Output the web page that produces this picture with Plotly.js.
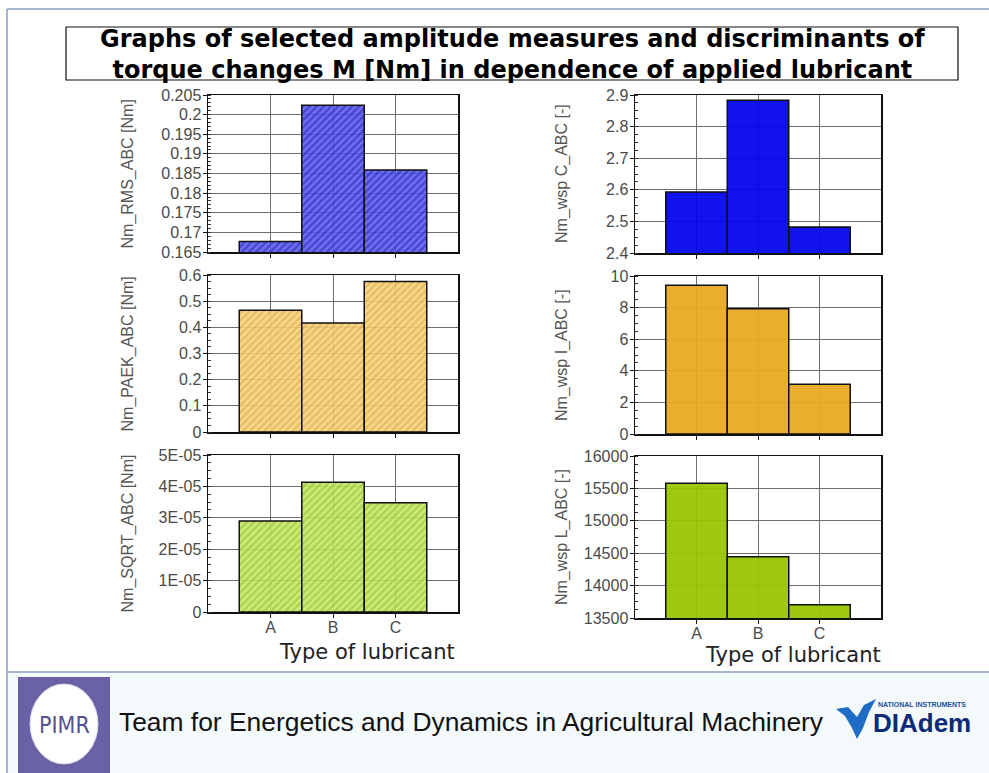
<!DOCTYPE html>
<html>
<head>
<meta charset="utf-8">
<script src="https://cdn.plot.ly/plotly-3.0.1.min.js"></script>
<style>html,body{margin:0;padding:0;background:#fff;}#chart{width:989px;height:773px;}</style>
</head>
<body>
<div id="chart"></div>
<script>
// ---------------- data ----------------
const categories = ['A', 'B', 'C'];
const rmsValues  = [0.1677, 0.2024, 0.1859];   // Nm_RMS_ABC [Nm]
const paekValues = [0.465, 0.417, 0.575];      // Nm_PAEK_ABC [Nm]
const sqrtValues = [2.90e-5, 4.13e-5, 3.48e-5];// Nm_SQRT_ABC [Nm]
const wspCValues = [2.593, 2.883, 2.482];      // Nm_wsp C_ABC [-]
const wspIValues = [9.42, 7.92, 3.15];         // Nm_wsp I_ABC [-]
const wspLValues = [15580, 14445, 13705];      // Nm_wsp L_ABC [-]
const sqrtTickVals = [0, 1e-5, 2e-5, 3e-5, 4e-5, 5e-5];
const sqrtTickText = ['0', '1E-05', '2E-05', '3E-05', '4E-05', '5E-05'];
const yTitles = ['Nm_RMS_ABC [Nm]', 'Nm_wsp C_ABC [-]', 'Nm_PAEK_ABC [Nm]', 'Nm_wsp I_ABC [-]', 'Nm_SQRT_ABC [Nm]', 'Nm_wsp L_ABC [-]'];
const xTitle = 'Type of lubricant';
const mainTitle = 'Graphs of selected amplitude measures and discriminants of<br>torque changes M [Nm] in dependence of applied lubricant';
const footerText = 'Team for Energetics and Dynamics in Agricultural Machinery';

// ---------------- helpers ----------------
const W = 989, H = 773;
const px = x => x / W;
const py = y => 1 - y / H;
const dom = (x0, x1, y0, y1) => ({x: [px(x0), px(x1)], y: [py(y1), py(y0)]});

const boxes = [
  dom(208, 458, 95, 252),   // TL
  dom(635, 881, 95, 253),   // TR
  dom(208, 458, 275, 432),  // ML
  dom(635, 881, 276, 434),  // MR
  dom(208, 458, 455, 612),  // BL
  dom(635, 881, 456, 618)   // BR
];

const tickFont = {family: 'Liberation Sans, Arial, sans-serif', size: 16, color: '#4a4a4a'};

function hatched(bg, fg) {
  return {color: bg, line: {color: '#111', width: 1.5},
          pattern: {shape: '/', fgcolor: fg, size: 5, solidity: 0.5, fillmode: 'overlay'}};
}
function solid(c) { return {color: c, line: {color: '#111', width: 1.5}}; }

const seriesList = [
  {y: rmsValues,  marker: hatched('rgba(92,92,238,0.88)', 'rgba(20,20,175,0.92)')},
  {y: wspCValues, marker: solid('rgba(0,0,236,0.93)')},
  {y: paekValues, marker: hatched('rgba(248,210,126,0.88)', 'rgba(214,156,48,0.92)')},
  {y: wspIValues, marker: solid('rgba(232,168,30,0.93)')},
  {y: sqrtValues, marker: hatched('rgba(200,232,104,0.88)', 'rgba(130,182,30,0.92)')},
  {y: wspLValues, marker: solid('rgba(152,196,0,0.93)')}
];

const yCfg = [
  {range: [0.165, 0.205], dtick: 0.005, minor: 0.001},
  {range: [2.4, 2.9], dtick: 0.1, minor: 0.025},
  {range: [0, 0.6], dtick: 0.1, minor: 0.025},
  {range: [0, 10], dtick: 2, minor: 0.5},
  {range: [0, 5e-5], tickvals: sqrtTickVals, ticktext: sqrtTickText, minor: 2.5e-6},
  {range: [13500, 16000], dtick: 500, minor: 125, tickformat: 'd'}
];

const data = [];
const layout = {
  width: W, height: H,
  margin: {l: 0, r: 0, t: 0, b: 0},
  paper_bgcolor: '#ffffff',
  plot_bgcolor: 'rgba(0,0,0,0)',
  showlegend: false,
  bargap: 0,
  shapes: [],
  annotations: []
};

seriesList.forEach((s, i) => {
  const n = i + 1;
  const xa = 'xaxis' + (n === 1 ? '' : n), ya = 'yaxis' + (n === 1 ? '' : n);
  const xr = 'x' + (n === 1 ? '' : n), yr = 'y' + (n === 1 ? '' : n);
  data.push({type: 'bar', x: categories, y: s.y, width: 1, marker: s.marker,
             xaxis: xr, yaxis: yr, hoverinfo: 'x+y'});
  const bottomRow = i >= 4;
  layout[xa] = {
    domain: boxes[i].x, anchor: yr, type: 'category', categoryorder: 'array', categoryarray: categories,
    range: [-1, 3], showgrid: true, gridcolor: '#6e6e6e', gridwidth: 1,
    showline: true, linecolor: '#111', linewidth: 1.5, mirror: true,
    ticks: 'outside', ticklen: 4, tickcolor: '#111', ticklabelstandoff: -4,
    showticklabels: bottomRow, tickfont: tickFont, fixedrange: true, zeroline: false
  };
  const c = yCfg[i];
  const yax = {
    domain: boxes[i].y, anchor: xr, range: c.range,
    showgrid: true, gridcolor: '#6e6e6e', gridwidth: 1,
    showline: true, linecolor: '#111', linewidth: 1.5, mirror: true,
    ticks: 'outside', ticklen: 4, tickcolor: '#111', ticklabelstandoff: -2,
    minor: {dtick: c.minor, ticks: 'inside', ticklen: 3, tickcolor: '#333', showgrid: false},
    tickfont: tickFont, fixedrange: true, zeroline: false
  };
  if (c.tickvals) { yax.tickmode = 'array'; yax.tickvals = c.tickvals; yax.ticktext = c.ticktext; }
  else { yax.tick0 = c.range[0]; yax.dtick = c.dtick; }
  if (c.tickformat) yax.tickformat = c.tickformat;
  layout[ya] = yax;

  // y axis title
  layout.annotations.push({
    text: yTitles[i], textangle: -90, showarrow: false,
    xref: 'paper', x: px(i % 2 === 0 ? 127 : 562), xanchor: 'center',
    yref: yr + ' domain', y: 0.5, yanchor: 'middle',
    font: {family: 'Liberation Sans, Arial, sans-serif', size: 16, color: '#555'}
  });
});

// x titles
layout.annotations.push(
  {text: xTitle, showarrow: false, xref: 'paper', yref: 'paper', x: px(367), y: py(652),
   xanchor: 'center', yanchor: 'middle', font: {family: 'DejaVu Sans, Verdana, sans-serif', size: 21, color: '#222'}},
  {text: xTitle, showarrow: false, xref: 'paper', yref: 'paper', x: px(793), y: py(655),
   xanchor: 'center', yanchor: 'middle', font: {family: 'DejaVu Sans, Verdana, sans-serif', size: 21, color: '#222'}}
);

// main title (boxed)
layout.annotations.push({
  text: '<b>' + mainTitle + '</b>', showarrow: false, xref: 'paper', yref: 'paper',
  x: px(512), y: py(54), xanchor: 'center', yanchor: 'middle', align: 'center',
  font: {family: 'DejaVu Sans, Verdana, sans-serif', size: 24, color: '#000'}
});
layout.shapes.push({type: 'rect', xref: 'paper', yref: 'paper', x0: px(66), x1: px(958), y0: py(27), y1: py(80),
                    line: {color: '#111', width: 1.2}, fillcolor: 'rgba(0,0,0,0)'});

// frame & footer
layout.shapes.push(
  {type: 'rect', xref: 'paper', yref: 'paper', x0: px(8), x1: px(989), y0: py(672), y1: py(773),
   line: {width: 0}, fillcolor: '#f4f9fc', layer: 'below'},
  {type: 'line', xref: 'paper', yref: 'paper', x0: px(7), x1: px(989), y0: py(9), y1: py(9), line: {color: '#8c9cbc', width: 1.5}},
  {type: 'line', xref: 'paper', yref: 'paper', x0: px(7), x1: px(7), y0: py(9), y1: py(773), line: {color: '#8c9cbc', width: 1.5}},
  {type: 'line', xref: 'paper', yref: 'paper', x0: px(7), x1: px(989), y0: py(672), y1: py(672), line: {color: '#8c9cbc', width: 1.5}},
  // PIMR logo
  {type: 'rect', xref: 'paper', yref: 'paper', x0: px(18), x1: px(110), y0: py(677), y1: py(773),
   line: {width: 0}, fillcolor: '#6a62a6'},
  {type: 'circle', xref: 'paper', yref: 'paper', x0: px(30), x1: px(98), y0: py(684), y1: py(764),
   line: {color: '#d8d4ec', width: 1}, fillcolor: '#ffffff'}
);
// NI eagle mark
const eagle = [[836,709],[848,707],[857,717],[864,705],[876,699],[869,712],[863,728],[857,739],[852,728],[845,716]];
layout.shapes.push({type: 'path', xref: 'paper', yref: 'paper',
  path: 'M' + eagle.map(p => px(p[0]) + ',' + py(p[1])).join(' L') + ' Z',
  fillcolor: '#1f6cc6', line: {width: 0}});

layout.annotations.push(
  {text: 'PIMR', showarrow: false, xref: 'paper', yref: 'paper', x: px(64), y: py(725),
   xanchor: 'center', yanchor: 'middle', font: {family: 'DejaVu Sans Condensed, DejaVu Sans, sans-serif', size: 23, color: '#57528f'}},
  {text: footerText, showarrow: false, xref: 'paper', yref: 'paper', x: px(117), y: py(722),
   xanchor: 'left', yanchor: 'middle', font: {family: 'Liberation Sans, Arial, sans-serif', size: 26.4, color: '#111'}},
  {text: '<b>NATIONAL INSTRUMENTS</b>', showarrow: false, xref: 'paper', yref: 'paper', x: px(922), y: py(704),
   xanchor: 'center', yanchor: 'middle', font: {family: 'Liberation Sans, Arial, sans-serif', size: 7, color: '#1a4f9e'}},
  {text: '<b>DIAdem</b>', showarrow: false, xref: 'paper', yref: 'paper', x: px(922), y: py(723),
   xanchor: 'center', yanchor: 'middle', font: {family: 'Liberation Sans, Arial, sans-serif', size: 26, color: '#0c2a78'}}
);

Plotly.newPlot('chart', data, layout, {displayModeBar: false, staticPlot: true});
</script>
</body>
</html>
